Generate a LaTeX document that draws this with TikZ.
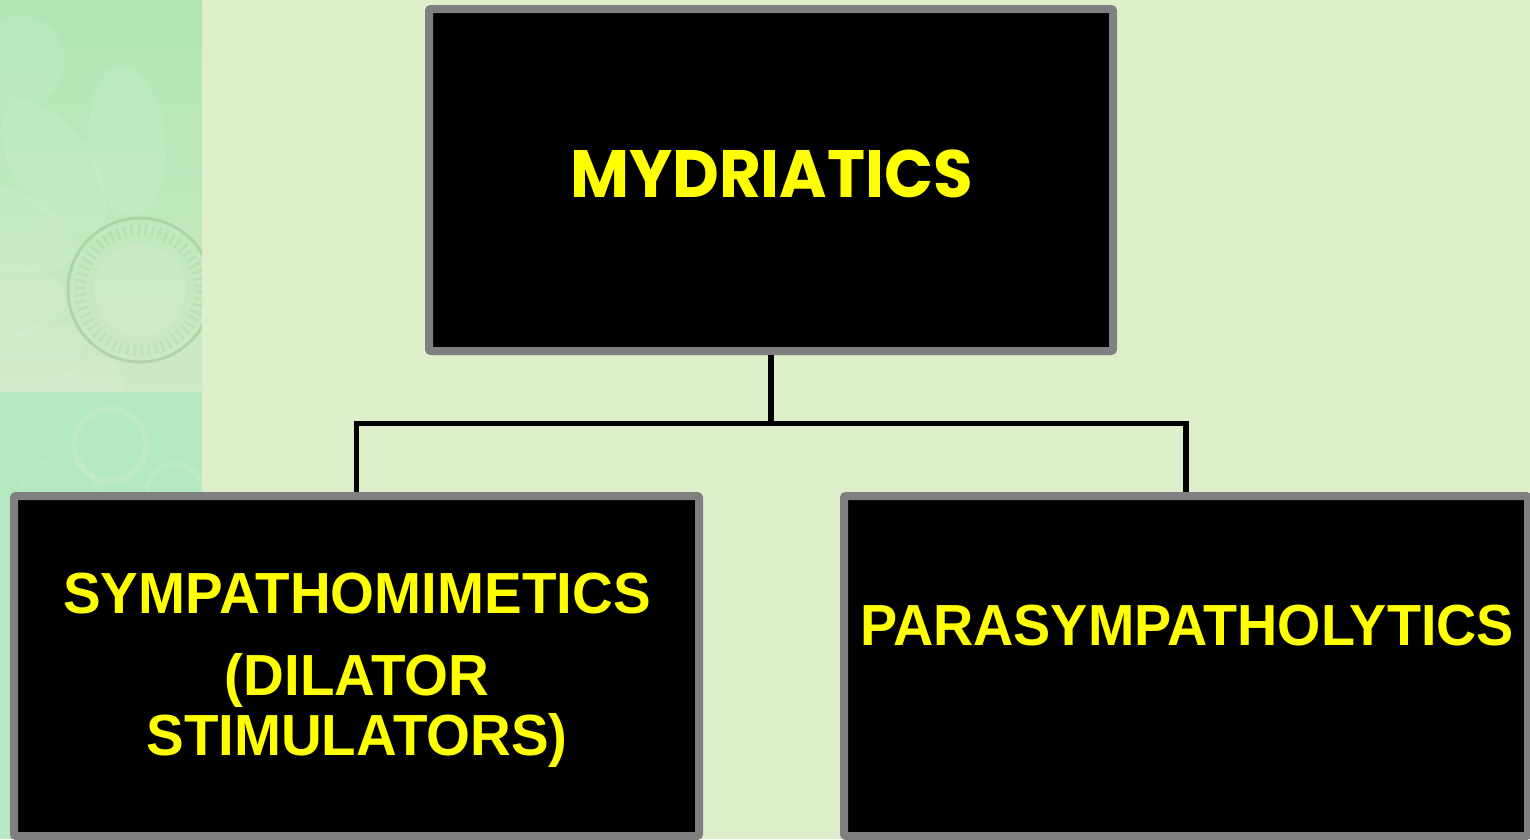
\documentclass[tikz,border=0pt]{standalone}
\usepackage{fontspec}
\usepackage{graphicx}
\setmainfont{Liberation Sans}
\newfontfamily\poppfont{Poppins}
\usetikzlibrary{shadows}
\definecolor{bg}{RGB}{222,239,203}
\definecolor{stripA}{RGB}{176,230,181}
\definecolor{stripB}{RGB}{206,233,196}
\definecolor{stripC}{RGB}{180,232,190}
\definecolor{ringc}{RGB}{120,170,120}
\definecolor{frame}{RGB}{128,128,128}
\definecolor{txt}{RGB}{255,255,0}
\begin{document}
\begin{tikzpicture}[x=1pt,y=-1pt,
  boxnode/.style={draw=frame, fill=black, line width=8pt, rounded corners=2pt, inner sep=0pt,
    drop shadow={opacity=0.3, shadow xshift=1pt, shadow yshift=-4pt}},
  conn/.style={draw=black, line width=5.5pt},
  labtext/.style={text=txt, inner sep=0pt, font=\bfseries\fontsize{58}{60}\selectfont}]
\fill[bg] (0,0) rectangle (1530,839);
\useasboundingbox (0,0) rectangle (1530,839);
% decorative strip
\begin{scope}
  \clip (0,0) rectangle (202,392);
  \shade[top color=stripA, bottom color=stripB] (0,0) rectangle (202,392);
  \foreach \a in {95,125,155,185,215,245}
    \fill[white, opacity=0.09, shift={(140,290)}, rotate=\a] (150,0) ellipse (75 and 38);
  \fill[white, opacity=0.08] (20,60) circle (45);
  \draw[ringc, opacity=0.3, line width=3pt] (140,290) circle (72);
  \draw[ringc, opacity=0.12, line width=12pt, dash pattern=on 3pt off 4pt] (140,290) circle (60);
  \fill[white, opacity=0.1] (140,290) circle (46);
\end{scope}
\begin{scope}
  \clip (0,392) rectangle (202,839);
  \fill[stripC] (0,392) rectangle (202,839);
  \draw[white, opacity=0.12, line width=6pt] (110,445) circle (36);
  \draw[white, opacity=0.1, line width=5pt] (175,492) circle (28);
  \draw[white, opacity=0.08, line width=5pt] (60,500) circle (40);
  \fill[white, opacity=0.08] (0,600) rectangle (12,839);
\end{scope}
% boxes
\node[boxnode, minimum width=684pt, minimum height=342pt] (top) at (771,180) {};
\node[boxnode, minimum width=685pt, minimum height=340pt] (lbox) at (356.5,666) {};
\node[boxnode, minimum width=684pt, minimum height=340pt] (rbox) at (1186,666) {};
% connectors
\coordinate (bus) at (771,423.5);
\draw[conn] (top.south) -- (bus);
\draw[conn] (lbox.north) |- (bus) -| (rbox.north);
% texts
\node[text=txt, inner sep=0pt, anchor=base, xscale=0.96, transform shape, font=\poppfont\bfseries\fontsize{67}{70}\selectfont] (tmyd) at (771.5,197) {MYDRIATICS};
\node[labtext, anchor=north, align=center, xscale=0.973, transform shape] (tsym) at (357,573) {SYMPATHOMIMETICS\\[22pt] (DILATOR\\ STIMULATORS)};
\node[labtext, anchor=base, xscale=0.96, transform shape] (tpara) at (1187,645) {PARASYMPATHOLYTICS};
\end{tikzpicture}
\end{document}
